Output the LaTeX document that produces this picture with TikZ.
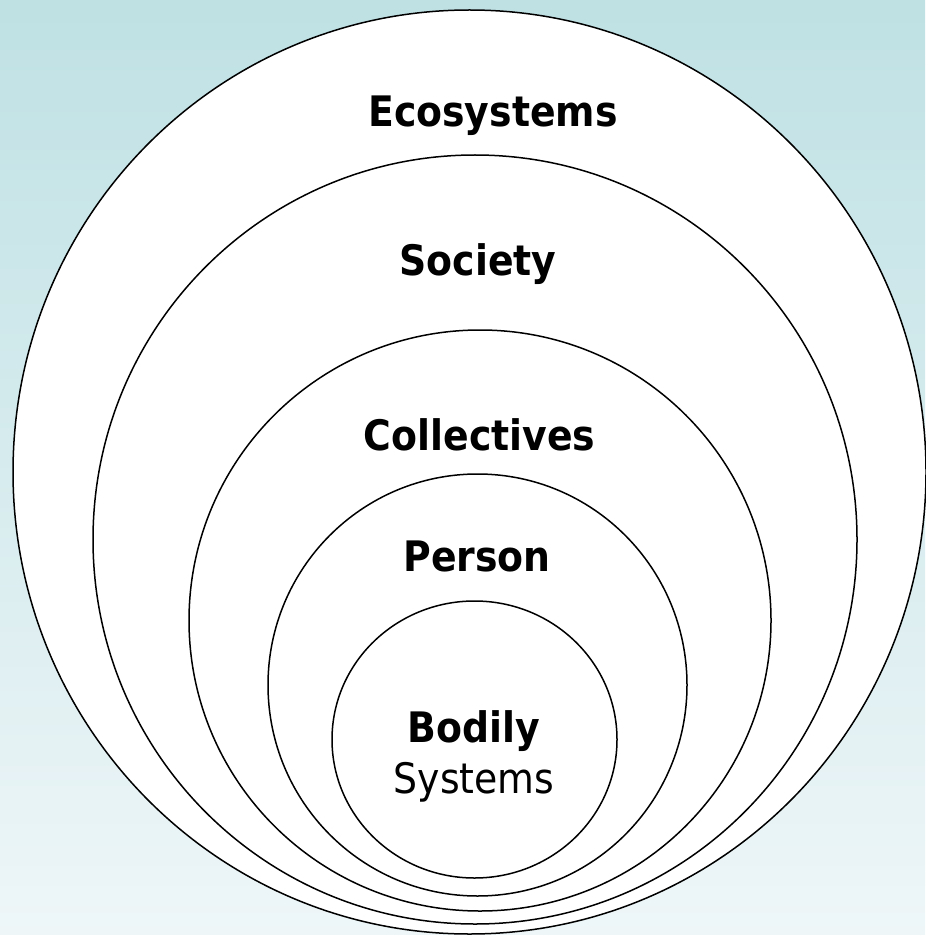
\documentclass[tikz,border=0pt]{standalone}
\usepackage{fontspec}
\setmainfont{DejaVu Sans}[FakeStretch=0.9]
\definecolor{bgtop}{HTML}{BFE1E4}
\definecolor{bgbot}{HTML}{EEF6F8}
\tikzset{
  ring/.style={draw=black, fill=white, line width=0.75pt},
  lbl/.style={anchor=base, inner sep=0pt, font=\fontsize{21pt}{25pt}\selectfont\bfseries},
  lblreg/.style={anchor=base, inner sep=0pt, font=\fontsize{21pt}{25pt}\selectfont}
}
\begin{document}
\begin{tikzpicture}[x=0.5pt,y=-0.5pt]
\useasboundingbox (0,0) rectangle (925,935);
\shade[top color=bgtop, bottom color=bgbot] (0,0) rectangle (925,935);
% rings
\draw[ring] (469.5,472) ellipse [x radius=228.25pt, y radius=231pt];
\draw[ring] (475,539.5) ellipse [x radius=191pt, y radius=192.25pt];
\draw[ring] (480,620.5) ellipse [x radius=145.5pt, y radius=145.25pt];
\draw[ring] (477.5,685) ellipse [x radius=104.75pt, y radius=105.5pt];
\draw[ring] (474.5,739.5) ellipse [x radius=71.25pt, y radius=69.25pt];
% labels
\node[lbl] (eco) at (493,126.4) {Ecosystems};
\node[lbl] (soc) at (478,275.5) {Society};
\node[lbl] (col) at (479.5,450) {Collectives};
\node[lbl] (per) at (477,571) {Person};
\node[lbl] (bod) at (474,742) {Bodily};
\node[lblreg] (sys) at (474,793) {Systems};
\end{tikzpicture}
\end{document}
